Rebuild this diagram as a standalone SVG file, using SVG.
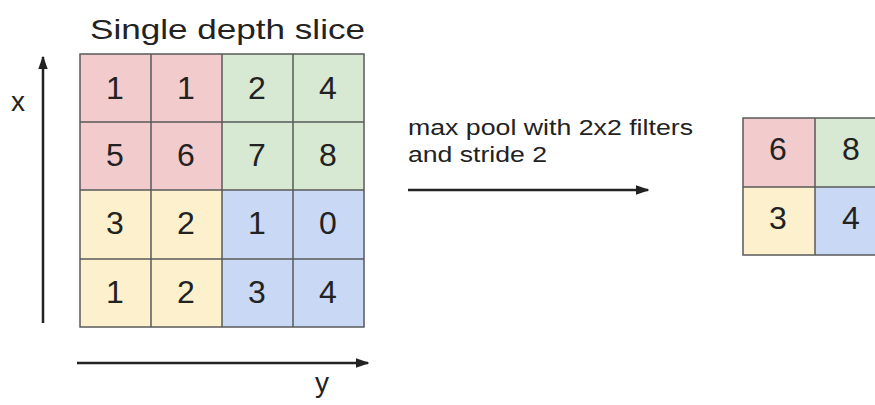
<svg xmlns="http://www.w3.org/2000/svg" width="875" height="405" viewBox="0 0 875 405">
<defs>
<style>
.t{font-family:"Liberation Sans",Arial,sans-serif;fill:#222}
.d{font-size:32px;text-anchor:middle}
.c{stroke:#5a5a5a;stroke-width:1.5}
.r{fill:#f2cbcc}.g{fill:#d7e9d2}.y{fill:#fdf1cd}.b{fill:#c8d8f5}
.ax{stroke:#222;stroke-width:2.5;fill:none}
</style>
<marker id="ah" viewBox="0 0 10 10" refX="9" refY="5" markerWidth="5.5" markerHeight="5.5" orient="auto" markerUnits="strokeWidth"><path d="M0,1.5 L10,5 L0,8.5 Z" fill="#222"/></marker>
</defs>
<rect width="875" height="405" fill="#fff"/>
<text class="t" x="90" y="39" font-size="28" textLength="275" lengthAdjust="spacingAndGlyphs">Single depth slice</text>
<g id="input">
<rect class="r" x="80" y="54" width="142" height="136"/>
<rect class="g" x="222" y="54" width="142" height="136"/>
<rect class="y" x="80" y="190" width="142" height="137"/>
<rect class="b" x="222" y="190" width="142" height="137"/>
<g class="c" fill="none">
<rect x="80" y="54" width="284" height="273"/>
<path d="M151,54V327M222,54V327M293,54V327M80,122H364M80,190H364M80,259H364"/>
</g>
<g class="t d">
<text x="115" y="99">1</text><text x="186" y="99">1</text><text x="257" y="99">2</text><text x="328" y="99">4</text>
<text x="115" y="166">5</text><text x="186" y="166">6</text><text x="257" y="166">7</text><text x="328" y="166">8</text>
<text x="115" y="234">3</text><text x="186" y="234">2</text><text x="257" y="234">1</text><text x="328" y="234">0</text>
<text x="115" y="303">1</text><text x="186" y="303">2</text><text x="257" y="303">3</text><text x="328" y="303">4</text>
</g>
</g>
<g id="connectors">
<line class="ax" x1="43" y1="323" x2="43" y2="57" marker-end="url(#ah)"/>
<line class="ax" x1="77" y1="363" x2="368" y2="363" marker-end="url(#ah)"/>
<line class="ax" x1="408" y1="190" x2="648" y2="190" stroke-width="2" marker-end="url(#ah)"/>
</g>
<text class="t" x="11" y="111" font-size="28">x</text>
<text class="t" x="315" y="392" font-size="28">y</text>
<g id="label">
<text class="t" x="408" y="135" font-size="22" textLength="285" lengthAdjust="spacingAndGlyphs">max pool with 2x2 filters</text>
<text class="t" x="408" y="162" font-size="22" textLength="139" lengthAdjust="spacingAndGlyphs">and stride 2</text>
</g>
<g id="output">
<rect class="r" x="743" y="118" width="72" height="69"/>
<rect class="g" x="815" y="118" width="72" height="69"/>
<rect class="y" x="743" y="187" width="72" height="68"/>
<rect class="b" x="815" y="187" width="72" height="68"/>
<g class="c" fill="none">
<rect x="743" y="118" width="144" height="137"/>
<path d="M815,118V255M743,187H887"/>
</g>
<g class="t d">
<text x="778" y="160">6</text><text x="851" y="160">8</text>
<text x="778" y="229">3</text><text x="851" y="229">4</text>
</g>
</g>
</svg>
